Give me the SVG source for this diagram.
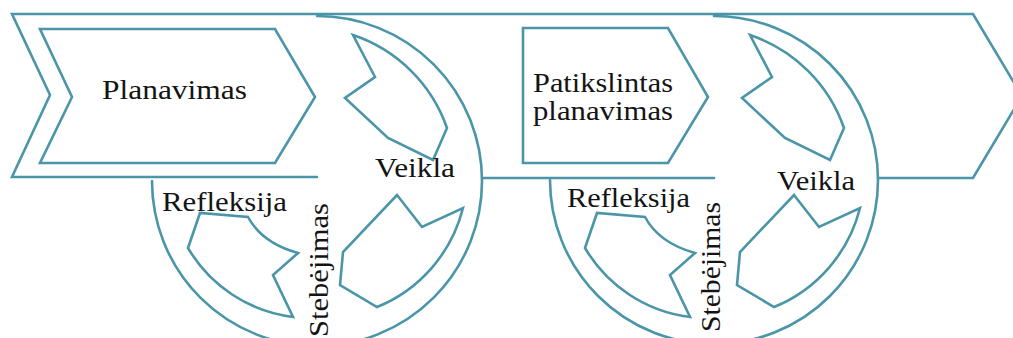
<svg xmlns="http://www.w3.org/2000/svg" width="1013" height="338" viewBox="0 0 1013 338">
  <style>
    .ln { fill: none; stroke: #4a95a8; stroke-width: 2.6; stroke-linejoin: miter; stroke-linecap: round; }
    .lbl { font-family: "Liberation Serif", "Times New Roman", serif; font-size: 28px; fill: #141414; }
  </style>
  <defs>
    <!-- three segments inside each cycle circle -->
    <g id="cycle-segments" class="ln">
      <path d="M353,35 A150,150 0 0 1 447,128 L433,160 L388,138 L345,98 L375,77 Z"/>
      <path d="M397,195 L422,227 L463,208 A145,145 0 0 1 377,307 L340,285 L343,252 Z"/>
      <path d="M188,248 L200,213 L248,217 Q262,243 298,253 L273,275 L293,317 A142,142 0 0 1 188,248 Z"/>
    </g>
  </defs>

  <!-- band outline and cycle circles -->
  <g id="connectors" class="ln">
    <path d="M317,177 H12 L50,95 L12,14 H973 L1022,96 L973,178 H878"/>
    <path d="M483,178 H714"/>
    <path d="M317,16 A165,165 0 1 1 152,181"/>
    <path d="M714,16 A164,164 0 1 1 550,180"/>
  </g>

  <g id="planavimas">
    <path class="ln" d="M40,29 H275 L315,97 L275,163 H40 L72,97 Z"/>
    <text class="lbl" x="102" y="99" textLength="145" lengthAdjust="spacingAndGlyphs">Planavimas</text>
  </g>

  <g id="cycle-1">
    <use href="#cycle-segments"/>
    <text class="lbl" x="375" y="177" textLength="80" lengthAdjust="spacingAndGlyphs">Veikla</text>
    <text class="lbl" x="162" y="211" textLength="125" lengthAdjust="spacingAndGlyphs">Refleksija</text>
    <text class="lbl" transform="translate(328,337) rotate(-90)" textLength="134" lengthAdjust="spacingAndGlyphs">Stebėjimas</text>
  </g>

  <g id="patikslintas-planavimas">
    <path class="ln" d="M523,28 H668 L708,97 L668,163 H523 Z"/>
    <text class="lbl" x="533" y="92" textLength="140" lengthAdjust="spacingAndGlyphs">Patikslintas</text>
    <text class="lbl" x="533" y="120" textLength="140" lengthAdjust="spacingAndGlyphs">planavimas</text>
  </g>

  <g id="cycle-2">
    <use href="#cycle-segments" transform="translate(397,0)"/>
    <text class="lbl" x="777" y="190" textLength="78" lengthAdjust="spacingAndGlyphs">Veikla</text>
    <text class="lbl" x="567" y="207" textLength="123" lengthAdjust="spacingAndGlyphs">Refleksija</text>
    <text class="lbl" transform="translate(720,332) rotate(-90)" textLength="130" lengthAdjust="spacingAndGlyphs">Stebėjimas</text>
  </g>
</svg>
